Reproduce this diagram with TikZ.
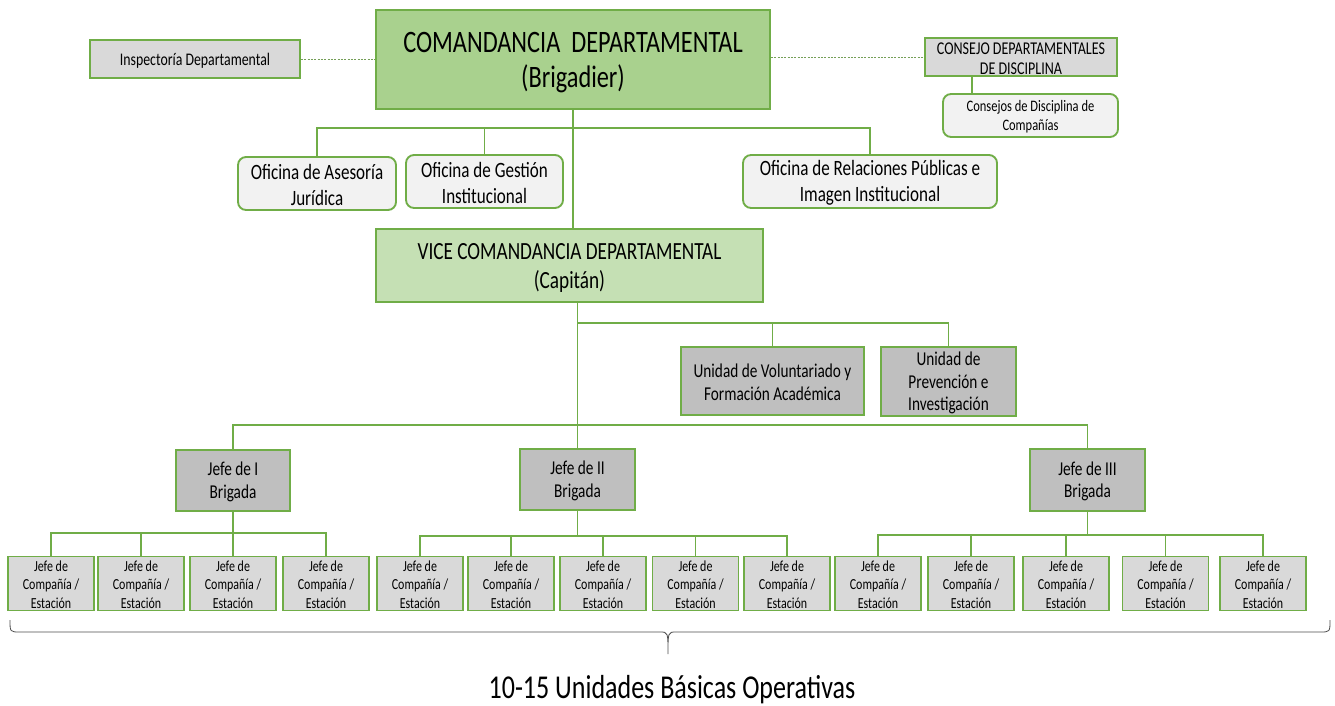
\documentclass[tikz,border=0pt]{standalone}
\usepackage{fontspec}
\setmainfont{Carlito}[FakeStretch=0.78]
\definecolor{gbord}{HTML}{70AD47}
\definecolor{gfill}{HTML}{A9D18E}
\definecolor{lgfill}{HTML}{C5E0B4}
\definecolor{grayA}{HTML}{D9D9D9}
\definecolor{grayB}{HTML}{BFBFBF}
\definecolor{grayL}{HTML}{F2F2F2}
\newcommand\bx[7]{\node[#6, minimum width=#4*0.75pt, minimum height=#5*0.75pt] (#1) at (#2,#3) {\rule{0pt}{0.85em}#7};}
\tikzset{
  base/.style={draw=gbord, line width=1.4pt, inner sep=0pt, align=center, text=black},
  graybox/.style={base, fill=grayA},
  darkbox/.style={base, fill=grayB},
  roundbox/.style={base, fill=grayL, rounded corners=6pt},
  conn/.style={draw=gbord, line width=1.4pt},
  dots/.style={draw=gbord!70!gray, line width=0.6pt, dash pattern=on 1.5pt off 1pt},
  fbig/.style={font=\fontsize{23.4}{26.3}\selectfont},
  fvice/.style={font=\fontsize{18.5}{22}\selectfont},
  fofi/.style={font=\fontsize{16.4}{19.5}\selectfont},
  finsp/.style={font=\fontsize{13.3}{15}\selectfont},
  fcons/.style={font=\fontsize{13.5}{15}\selectfont},
  fconsc/.style={font=\fontsize{12}{14.2}\selectfont},
  funit/.style={font=\fontsize{14.7}{17}\selectfont},
  fcomp/.style={font=\fontsize{11.5}{14}\selectfont},
}
\begin{document}
\begin{tikzpicture}[x=0.75pt,y=-0.75pt]
\useasboundingbox (0,0) rectangle (1335,706);
% top level
\bx{insp}{195}{59}{210}{38}{graybox,finsp}{Inspectoría Departamental}
\bx{com}{573}{59.5}{394}{99}{base,fill=gfill,fbig}{COMANDANCIA\ \ DEPARTAMENTAL\\(Brigadier)}
\bx{cons}{1021}{57}{192}{38}{graybox,fcons}{CONSEJO DEPARTAMENTALES\\DE DISCIPLINA}
\bx{consc}{1030.5}{115.5}{175}{43}{roundbox,fconsc}{Consejos de Disciplina de\\Compañías}
% offices
\bx{ase}{317}{183.5}{158}{53}{roundbox,fofi}{Oficina de Asesoría\\Jurídica}
\bx{ges}{484.5}{181.5}{157}{53}{roundbox,fofi}{Oficina de Gestión\\Institucional}
\bx{rel}{870}{181.5}{254}{53}{roundbox,fofi}{Oficina de Relaciones Públicas e\\Imagen Institucional}
% vice
\bx{vice}{569.5}{265.5}{387}{73}{base,fill=lgfill,fvice}{VICE COMANDANCIA DEPARTAMENTAL\\(Capitán)}
\bx{vol}{772.5}{381}{183}{68}{darkbox,funit}{Unidad de Voluntariado y\\Formación Académica}
\bx{pre}{948.5}{381.5}{135}{69}{darkbox,funit}{Unidad de\\Prevención e\\Investigación}
% brigades
\bx{b1}{233}{480.5}{114}{61}{darkbox,funit}{Jefe de I\\Brigada}
\bx{b2}{577.5}{479.5}{115}{61}{darkbox,funit}{Jefe de II\\Brigada}
\bx{b3}{1087.5}{480}{115}{62}{darkbox,funit}{Jefe de III\\Brigada}
% companies
\foreach \n/\x in {1/51,2/141,3/233,4/326,5/420,6/511,7/603,8/695.5,9/787,10/878,11/971,12/1066,13/1165.5,14/1263}
  \bx{c\n}{\x}{583.5}{86}{54}{graybox,fcomp}{Jefe de\\Compañía /\\Estación}
% coordinates for bars
\coordinate (barA) at (0,128);
\coordinate (barB) at (0,323);
\coordinate (barC) at (0,425);
\coordinate (k1) at (0,533);
\coordinate (k2) at (0,536);
\coordinate (k3) at (0,535);
\coordinate (cx) at (972,0);
% dotted links
\draw[dots] (insp.east) -- (insp.east -| com.west);
\draw[dots] (com.east |- cons.west) -- (cons.west);
% consejo
\draw[conn] (cons.south -| cx) -- (consc.north -| cx);
% comandancia to vice
\draw[conn] (com.south) -- (com.south |- vice.north);
\draw[conn] (ase.north) -- (ase.north |- barA) -- (rel.north |- barA) -- (rel.north);
\draw[conn] (ges.north) -- (ges.north |- barA);
% vice to units and brigades
\draw[conn] (vice.south -| b2.north) -- (b2.north);
\draw[conn] (b2.north |- barB) -- (pre.north |- barB) -- (pre.north);
\draw[conn] (vol.north) -- (vol.north |- barB);
\draw[conn] (b1.north) -- (b1.north |- barC) -- (b3.north |- barC) -- (b3.north);
% brigade 1
\draw[conn] (b1.south) -- (b1.south |- k1);
\draw[conn] (c1.north) -- (c1.north |- k1) -- (c4.north |- k1) -- (c4.north);
\foreach \i in {2,3} \draw[conn] (c\i.north) -- (c\i.north |- k1);
% brigade 2
\draw[conn] (b2.south) -- (b2.south |- k2);
\draw[conn] (c5.north) -- (c5.north |- k2) -- (c9.north |- k2) -- (c9.north);
\foreach \i in {6,7,8} \draw[conn] (c\i.north) -- (c\i.north |- k2);
% brigade 3
\draw[conn] (b3.south) -- (b3.south |- k3);
\draw[conn] (c10.north) -- (c10.north |- k3) -- (c14.north |- k3) -- (c14.north);
\foreach \i in {11,12,13} \draw[conn] (c\i.north) -- (c\i.north |- k3);
% brace
\draw[gray!60!black, line width=0.6pt]
  (10,620) .. controls (10,632) .. (20,632) -- (660,632)
  .. controls (668,632) .. (668,654)
  .. controls (668,632) .. (676,632) -- (1320,632)
  .. controls (1330,632) .. (1330,620);
\node[font=\fontsize{25}{30}\selectfont, inner sep=0pt] (total) at (672,690) {10-15 Unidades Básicas Operativas};
\end{tikzpicture}
\end{document}
